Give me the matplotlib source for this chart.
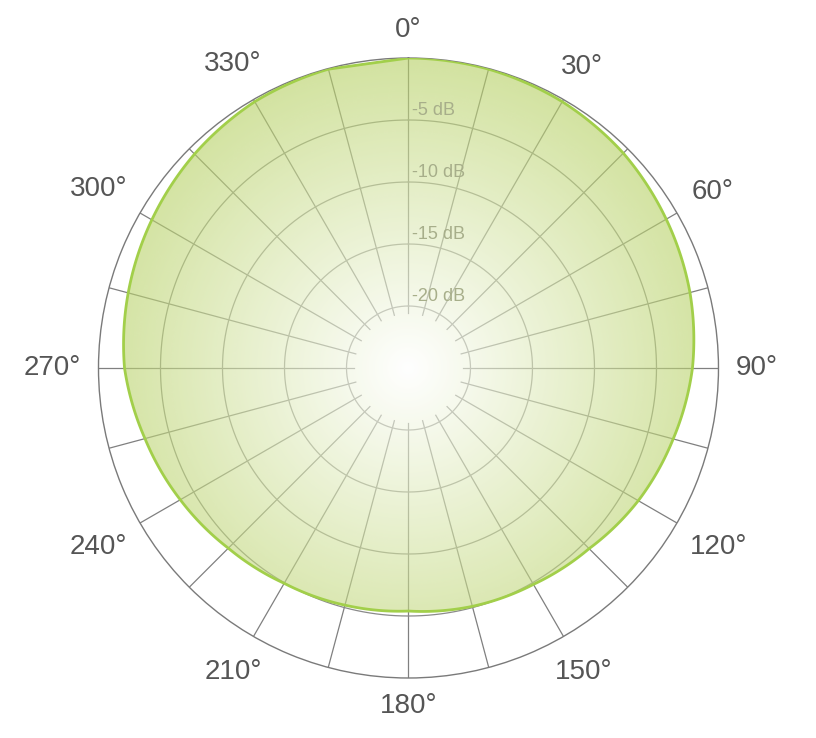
import numpy as np
import matplotlib.pyplot as plt
from matplotlib.path import Path
from matplotlib.patches import PathPatch

plt.rcParams['font.family'] = ['Liberation Sans', 'DejaVu Sans']

# polar response, dB at every 15 degrees
angles_deg = [0, 15, 30, 45, 60, 75, 90, 105, 120, 135, 150, 165,
              180, 195, 210, 225, 240, 255, 270, 285, 300, 315, 330, 345]
level_db = [0.0, -0.05, -0.2, -0.5, -1.0, -1.5, -2.1, -2.9, -3.6, -4.4, -4.85, -5.1,
            -5.4, -5.2, -4.95, -4.45, -3.75, -3.0, -2.1, -1.6, -1.1, -0.6, -0.2, -0.05]

ring_db = [-20, -15, -10, -5]
ring_labels = ["-20 dB", "-15 dB", "-10 dB", "-5 dB"]
spoke_deg = list(range(0, 360, 15))
label_deg = list(range(0, 360, 30))
label_text = [f"{a}°" for a in label_deg]

DB_MIN, DB_MAX = -25, 0

fig = plt.figure(figsize=(8.16, 7.38), dpi=100)
ax = fig.add_axes([0.1207, 0.0813, 0.7598, 0.8401], projection='polar')
ax.set_theta_zero_location('N')
ax.set_theta_direction(-1)

# grid: spokes and rings
full = np.linspace(0, 2 * np.pi, 721)
for a in spoke_deg:
    t = np.deg2rad(a)
    ax.plot([t, t], [-20.6, 0], color='#808080', lw=0.9, zorder=1)
for d in ring_db:
    ax.plot(full, np.full_like(full, d), color='#8a8a8a', lw=0.9, zorder=1)

# response shape, curved between points
theta = np.deg2rad(angles_deg + [angles_deg[0]])
vals = level_db + [level_db[0]]
shape = Path(np.column_stack([theta, vals]), closed=True, _interpolation_steps=60)
patch = PathPatch(shape, facecolor='none', edgecolor='#a2cf4a', lw=2.0,
                  transform=ax.transData, zorder=4)
ax.add_patch(patch)

# radial gradient (white centre to green edge) at 0.6 opacity, clipped to the shape
n = 600
g = np.linspace(-1, 1, n)
gx, gy = np.meshgrid(g, g)
f = np.clip(np.hypot(gx, gy), 0, 1)[..., None]
edge = np.array([0.71, 0.815, 0.38])
rgba = np.ones((n, n, 4))
rgba[..., :3] = 1 - f * (1 - edge)
rgba[..., 3] = 0.6
im = ax.imshow(rgba, extent=[0, 1, 0, 1], transform=ax.transAxes,
               interpolation='bilinear', zorder=3)
im.set_clip_path(patch)

ax.set_xlim(0, 2 * np.pi)
ax.set_ylim(DB_MIN, DB_MAX)
ax.set_xticks([])
ax.set_yticks([])
ax.grid(False)
ax.spines['polar'].set_color('#7a7a7a')
ax.spines['polar'].set_linewidth(1.0)

# ring labels
for d, lab in zip(ring_db, ring_labels):
    ax.annotate(lab, xy=(0, d), xytext=(2.5, 7), textcoords='offset points',
                ha='left', va='center', fontsize=13, color='#a7ae8a', zorder=5)

# angle labels, constant gap outside the outer circle
px = 72 / fig.dpi
for a, lab in zip(label_deg, label_text):
    t = np.deg2rad(a)
    hw = 14.5 * len(lab) / 2
    hh = 11
    dist = 17 + hw * abs(np.sin(t)) + hh * abs(np.cos(t))
    ax.annotate(lab, xy=(t, DB_MAX), xytext=(dist * np.sin(t) * px, dist * np.cos(t) * px),
                textcoords='offset points', ha='center', va='center',
                fontsize=20, color='#555555', annotation_clip=False)

fig.savefig('out.png', dpi=100)
